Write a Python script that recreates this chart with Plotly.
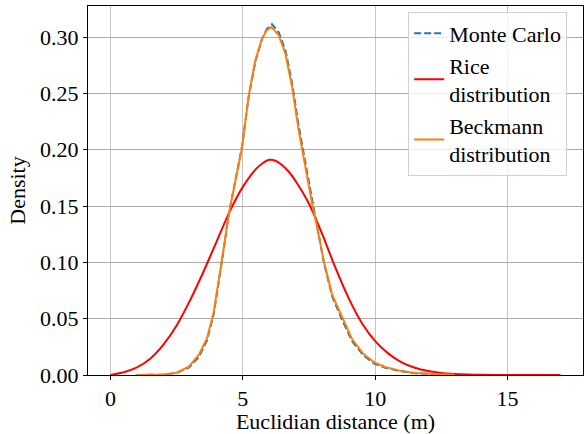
import plotly.graph_objects as go

# Rice distribution
rice_x = [0, 0.5, 1.0, 1.5, 2.0, 2.5, 3.0, 3.5, 4.0, 4.5, 5.0, 5.5, 5.75, 6.0, 6.25, 6.5, 6.75,
          7.0, 7.5, 8.0, 8.5, 9.0, 9.5, 10.0, 10.5, 11.0, 11.5, 12.0, 12.5, 13.0, 13.5, 14.0,
          15.0, 16.0, 17.0]
rice_y = [0, 0.0025, 0.0068, 0.0145, 0.027, 0.044, 0.066, 0.091, 0.118, 0.145, 0.167, 0.183,
          0.188, 0.191, 0.190, 0.186, 0.180, 0.172, 0.152, 0.125, 0.095, 0.068, 0.046, 0.030,
          0.019, 0.0112, 0.0064, 0.0035, 0.0018, 0.0009, 0.0004, 0.0002, 0.00004, 0.00001, 0.0]

# Beckmann distribution
beck_x = [0.95, 1.5, 2.0, 2.5, 2.96, 3.34, 3.65, 3.9, 4.09, 4.28, 4.47, 4.72, 4.97, 5.22, 5.47,
          5.72, 5.9, 6.08, 6.36, 6.61, 6.86, 7.11, 7.36, 7.62, 7.81, 8.06, 8.37, 8.75, 9.13,
          9.57, 9.98, 10.38, 10.88, 11.5, 12.4, 13.0]
beck_y = [0, 0.0001, 0.0005, 0.002, 0.0074, 0.018, 0.033, 0.056, 0.083, 0.113, 0.143, 0.173,
          0.202, 0.248, 0.279, 0.2985, 0.306, 0.309, 0.3015, 0.285, 0.2556, 0.217, 0.185, 0.1515,
          0.131, 0.101, 0.0716, 0.051, 0.0317, 0.0183, 0.011, 0.0071, 0.0041, 0.0018, 0.0005, 0.0002]

# Monte Carlo
mc_x = [1.0, 1.5, 2.0, 2.5, 2.96, 3.34, 3.65, 3.9, 4.09, 4.28, 4.47, 4.72, 4.97, 5.22, 5.47,
        5.72, 5.9, 6.1, 6.36, 6.61, 6.86, 7.11, 7.36, 7.62, 7.81, 8.06, 8.37, 8.75, 9.13,
        9.57, 9.98, 10.38, 10.88, 11.5, 12.4, 13.0]
mc_y = [0, 0.0001, 0.0004, 0.0018, 0.0065, 0.016, 0.031, 0.054, 0.081, 0.112, 0.143, 0.174,
        0.203, 0.247, 0.278, 0.298, 0.307, 0.3115, 0.304, 0.288, 0.259, 0.221, 0.188, 0.153,
        0.131, 0.100, 0.070, 0.049, 0.030, 0.017, 0.010, 0.0065, 0.0037, 0.0015, 0.0004, 0.0001]

x_ticks = [0, 5, 10, 15]
y_ticks = [0.00, 0.05, 0.10, 0.15, 0.20, 0.25, 0.30]

FONT = "'Liberation Serif', 'Times New Roman', 'DejaVu Serif', serif"
FS = 22

fig = go.Figure()
fig.add_trace(go.Scatter(x=mc_x, y=mc_y, mode="lines", name="Monte Carlo",
                         line=dict(color="#1f77b4", width=2, dash="7px,3px")))
fig.add_trace(go.Scatter(x=rice_x, y=rice_y, mode="lines", name="Rice<br>distribution",
                         line=dict(color="#ff0000", width=2, shape="spline", smoothing=0.6)))
fig.add_trace(go.Scatter(x=beck_x, y=beck_y, mode="lines", name="Beckmann<br>distribution",
                         line=dict(color="#ff7f0e", width=2)))

axis_common = dict(showline=True, linecolor="black", linewidth=1, mirror=True,
                   ticks="outside", ticklen=4, tickcolor="black", tickwidth=1,
                   showgrid=True, gridwidth=1, zeroline=False,
                   tickfont=dict(family=FONT, size=FS, color="black"))

fig.update_layout(
    width=587, height=434,
    margin=dict(l=88, r=4, t=6, b=59),
    paper_bgcolor="white", plot_bgcolor="white",
    font=dict(family=FONT, size=FS, color="black"),
    xaxis=dict(range=[-0.85, 17.85], tickvals=x_ticks, gridcolor="#c4c4c4",
               title=dict(text="Euclidian distance (m)", font=dict(family=FONT, size=FS), standoff=4),
               **axis_common),
    yaxis=dict(range=[0, 0.3276], tickvals=y_ticks, tickformat=".2f", gridcolor="#acacac",
               title=dict(text="Density", font=dict(family=FONT, size=FS), standoff=8),
               **axis_common),
    legend=dict(x=0.968, y=0.985, xanchor="right", yanchor="top",
                bgcolor="rgba(255,255,255,0.8)", bordercolor="#d0d0d0", borderwidth=1,
                font=dict(family=FONT, size=FS, color="black")),
    showlegend=True,
)

fig.write_html("out.html")
